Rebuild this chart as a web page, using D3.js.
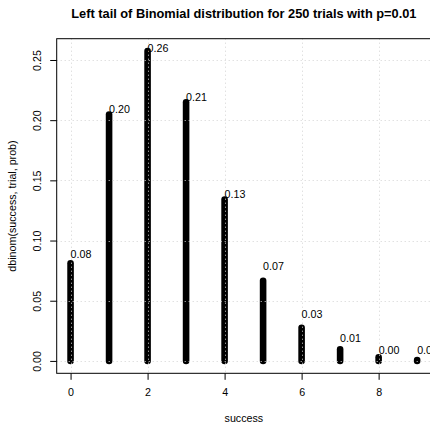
<!DOCTYPE html>
<html>
<head>
<meta charset="utf-8">
<script src="https://cdn.jsdelivr.net/npm/d3@7"></script>
<style>
  body { margin: 0; background: #fff; }
  svg { display: block; font-family: "Liberation Sans", Arial, Helvetica, sans-serif; }
</style>
</head>
<body>
<div id="chart"></div>
<script>
// Binomial(250, 0.01), left tail
const successes = [0, 1, 2, 3, 4, 5, 6, 7, 8, 9];
const probs = [0.08105, 0.20467, 0.25739, 0.21493, 0.13406, 0.06662, 0.02748, 0.00968, 0.00297, 0.00081];
const probLabels = ["0.08", "0.20", "0.26", "0.21", "0.13", "0.07", "0.03", "0.01", "0.00", "0.00"];
const xTicks = [0, 2, 4, 6, 8];
const yTicks = [0, 0.05, 0.1, 0.15, 0.2, 0.25];
const yTickLabels = ["0.00", "0.05", "0.10", "0.15", "0.20", "0.25"];

const width = 430, height = 423;
const plot = { left: 56.7, right: 431, top: 38.7, bottom: 373.3 };
const fs = 10.7;

// R style axis extension: 4% each side
const xr = d3.extent(successes), xpad = (xr[1] - xr[0]) * 0.04;
const yr = [0, d3.max(probs)], ypad = (yr[1] - yr[0]) * 0.04;

const x = d3.scaleLinear().domain([xr[0] - xpad, xr[1] + xpad]).range([plot.left, plot.right]);
const y = d3.scaleLinear().domain([yr[0] - ypad, yr[1] + ypad]).range([plot.bottom, plot.top]);

const svg = d3.select("#chart").append("svg")
  .attr("width", width)
  .attr("height", height);

// stacked points drawn as a column of dots
svg.append("g")
  .attr("stroke", "#000")
  .attr("stroke-width", 6.6)
  .attr("stroke-linecap", "round")
  .selectAll("line")
  .data(successes)
  .join("line")
  .attr("x1", (d) => x(d))
  .attr("x2", (d) => x(d))
  .attr("y1", y(0))
  .attr("y2", (d, i) => y(probs[i]));

// grid on top, like grid() after plot
const grid = svg.append("g")
  .attr("stroke", "#d3d3d3")
  .attr("stroke-width", 1)
  .attr("stroke-dasharray", "1,3");
grid.selectAll("line.v")
  .data(xTicks)
  .join("line")
  .attr("class", "v")
  .attr("x1", (d) => Math.round(x(d)) + 0.5)
  .attr("x2", (d) => Math.round(x(d)) + 0.5)
  .attr("y1", plot.top)
  .attr("y2", plot.bottom);
grid.selectAll("line.h")
  .data(yTicks)
  .join("line")
  .attr("class", "h")
  .attr("x1", plot.left)
  .attr("x2", plot.right)
  .attr("y1", (d) => Math.round(y(d)) + 0.5)
  .attr("y2", (d) => Math.round(y(d)) + 0.5);

// value labels
const labelCap = d3.max(probs) + 0.004;
svg.append("g")
  .attr("font-size", fs)
  .attr("fill", "#000")
  .selectAll("text")
  .data(successes)
  .join("text")
  .attr("x", (d) => x(d))
  .attr("y", (d, i) => y(Math.min(+probLabels[i] + 0.01, labelCap)) + 5.3)
  .text((d, i) => probLabels[i]);

// box
svg.append("rect")
  .attr("x", plot.left)
  .attr("y", plot.top)
  .attr("width", plot.right - plot.left)
  .attr("height", plot.bottom - plot.top)
  .attr("fill", "none")
  .attr("stroke", "#000")
  .attr("stroke-width", 1);

// x axis
const xAxis = d3.axisBottom(x).tickValues(xTicks).tickSize(6.5).tickPadding(9).tickFormat(d3.format("d"));
svg.append("g")
  .attr("transform", `translate(0,${plot.bottom})`)
  .call(xAxis)
  .call((g) => g.select(".domain").remove())
  .call((g) => g.selectAll("text").attr("font-size", fs).attr("font-family", null).attr("fill", "#000"));

// y axis, labels rotated as in R (las = 0)
const yAxis = d3.axisLeft(y).tickValues(yTicks).tickSize(6.5).tickFormat((d, i) => yTickLabels[i]);
svg.append("g")
  .attr("transform", `translate(${plot.left},0)`)
  .call(yAxis)
  .call((g) => g.select(".domain").remove())
  .call((g) => g.selectAll("text")
    .attr("font-size", fs)
    .attr("font-family", null)
    .attr("fill", "#000")
    .attr("x", 0)
    .attr("dy", null)
    .attr("text-anchor", "middle")
    .attr("transform", "translate(-15.5,0) rotate(-90)"));

// titles
svg.append("text")
  .attr("x", (plot.left + plot.right) / 2)
  .attr("y", 17.5)
  .attr("text-anchor", "middle")
  .attr("font-weight", "bold")
  .attr("font-size", 12.8)
  .text("Left tail of Binomial distribution for 250 trials with p=0.01");

svg.append("text")
  .attr("x", (plot.left + plot.right) / 2)
  .attr("y", 421.5)
  .attr("text-anchor", "middle")
  .attr("font-size", fs)
  .text("success");

svg.append("text")
  .attr("transform", `translate(16,${(plot.top + plot.bottom) / 2}) rotate(-90)`)
  .attr("text-anchor", "middle")
  .attr("font-size", fs)
  .text("dbinom(success, trial, prob)");
</script>
</body>
</html>
